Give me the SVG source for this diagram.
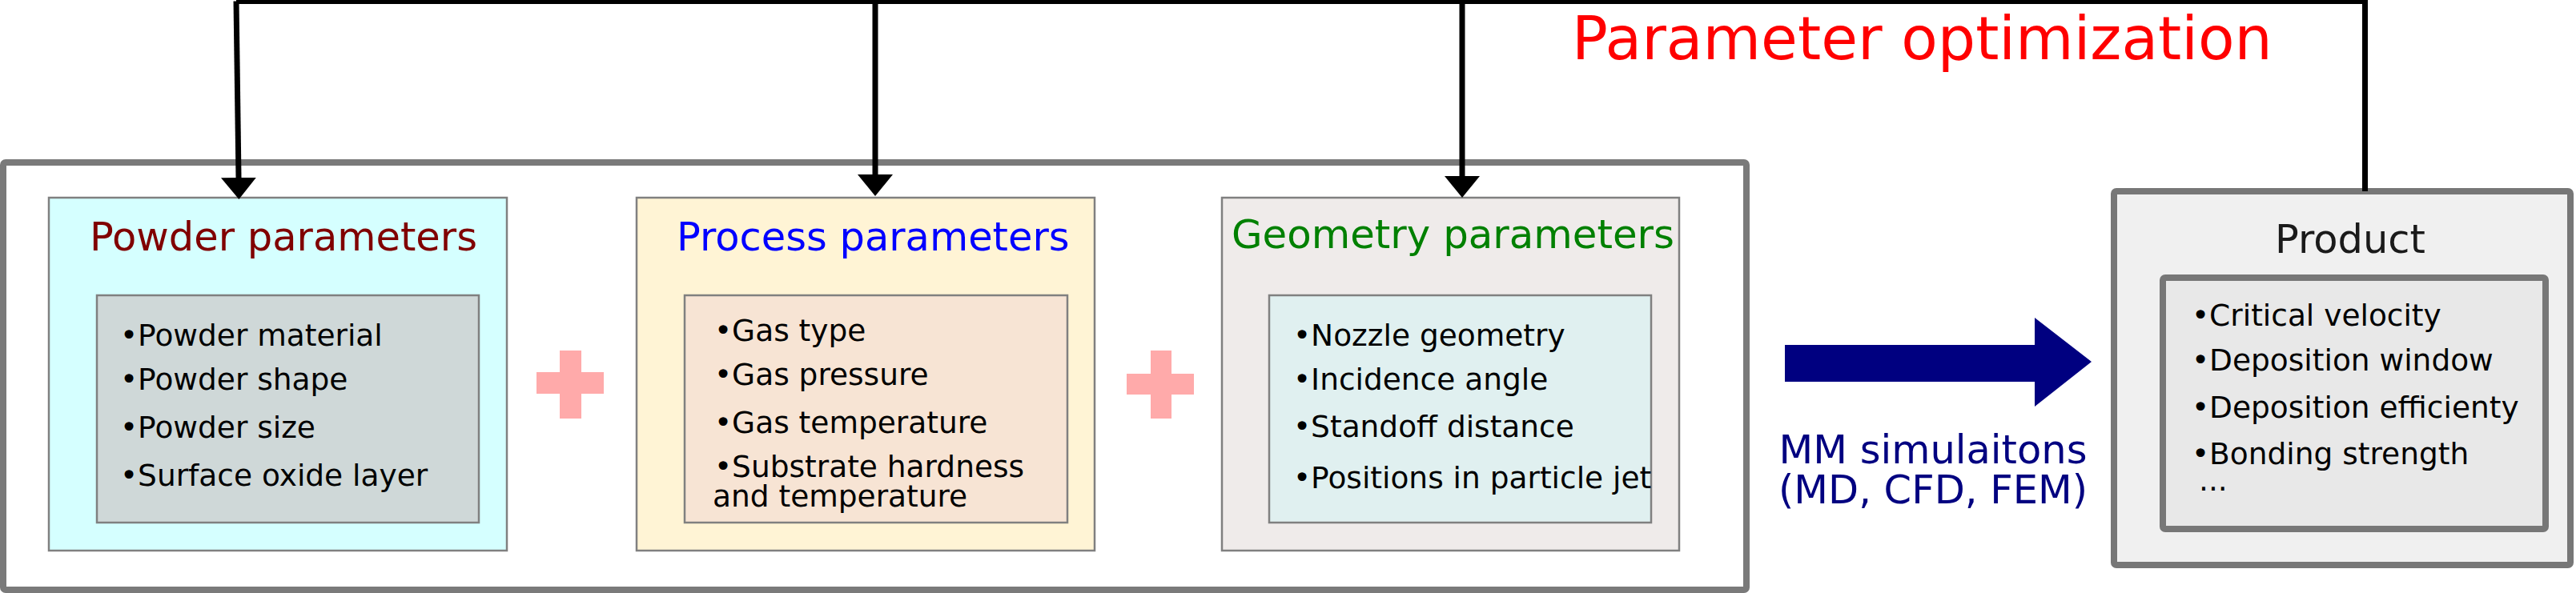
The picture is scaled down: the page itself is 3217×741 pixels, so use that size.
<svg xmlns="http://www.w3.org/2000/svg" width="3217" height="741" viewBox="0 0 3217 741">
<defs>
<style>
text{font-family:"DejaVu Sans","Liberation Sans",sans-serif;}
.title{font-size:49.5px;}
.item{font-size:37.5px;fill:#000;}
.box{stroke:#808080;stroke-width:2.5;}
.thick{stroke:#777;stroke-width:8;}
.conn{fill:none;stroke:#000;stroke-width:7;}
.plus{fill:#ffaaaa;}
</style>
<marker id="ah" viewBox="0 0 27 44" refX="0" refY="22" markerWidth="27" markerHeight="44" markerUnits="userSpaceOnUse" orient="auto">
<path d="M0,0 L27,22 L0,44 Z" fill="#000"/>
</marker>
</defs>
<rect width="3217" height="741" fill="#fff"/>

<g id="outer">
<rect x="4" y="203" width="2177" height="534" rx="3" fill="none" stroke="#7a7a7a" stroke-width="8"/>
</g>

<g id="powder">
<rect class="box" x="61" y="247" width="572" height="441" fill="#d5ffff"/>
<text class="title" x="112" y="313" fill="#800000">Powder parameters</text>
<rect class="box" x="121" y="369" width="477" height="284" fill="#cfd8d8"/>
<text class="item" x="150" y="432">•Powder material</text>
<text class="item" x="150" y="487">•Powder shape</text>
<text class="item" x="150" y="547">•Powder size</text>
<text class="item" x="150" y="607">•Surface oxide layer</text>
</g>

<g id="plus1">
<rect class="plus" x="699" y="438" width="27" height="85"/>
<rect class="plus" x="670" y="465" width="84" height="27"/>
</g>

<g id="process">
<rect class="box" x="795" y="247" width="572" height="441" fill="#fff4d5"/>
<text class="title" x="845" y="313" fill="#0000ff">Process parameters</text>
<rect class="box" x="855" y="369" width="478" height="284" fill="#f7e4d4"/>
<text class="item" x="892" y="426">•Gas type</text>
<text class="item" x="892" y="481">•Gas pressure</text>
<text class="item" x="892" y="541">•Gas temperature</text>
<text class="item" x="892" y="596">•Substrate hardness</text>
<text class="item" x="890" y="633">and temperature</text>
</g>

<g id="plus2">
<rect class="plus" x="1437" y="438" width="26" height="85"/>
<rect class="plus" x="1407" y="467" width="84" height="26"/>
</g>

<g id="geometry">
<rect class="box" x="1526" y="247" width="571" height="441" fill="#efebea"/>
<text class="title" x="1538" y="310" fill="#008000" textLength="553" lengthAdjust="spacingAndGlyphs">Geometry parameters</text>
<rect class="box" x="1585" y="369" width="477" height="284" fill="#e0f0f0"/>
<text class="item" x="1615" y="432">•Nozzle geometry</text>
<text class="item" x="1615" y="487">•Incidence angle</text>
<text class="item" x="1615" y="546">•Standoff distance</text>
<text class="item" x="1615" y="610">•Positions in particle jet</text>
</g>

<g id="simulation">
<polygon points="2229,431 2541,431 2541,397 2612,452 2541,508 2541,477 2229,477" fill="#000080"/>
<text x="2414" y="579" font-size="49.5" fill="#000080" text-anchor="middle">MM simulaitons</text>
<text x="2414" y="629" font-size="49.5" fill="#000080" text-anchor="middle">(MD, CFD, FEM)</text>
</g>

<g id="product">
<rect class="thick" x="2640" y="239" width="570" height="467" rx="3" fill="#f0f0f0"/>
<text class="title" x="2841" y="316" fill="#1a1a1a">Product</text>
<rect class="thick" x="2701" y="347" width="478" height="314" rx="3" fill="#e8e8e8"/>
<text class="item" x="2737" y="407">•Critical velocity</text>
<text class="item" x="2737" y="463">•Deposition window</text>
<text class="item" x="2737" y="522">•Deposition efficienty</text>
<text class="item" x="2737" y="580">•Bonding strength</text>
<text class="item" x="2746" y="613">...</text>
</g>

<g id="connectors">
<path class="conn" d="M2953.5,239 V1.5 H295"/>
<path class="conn" d="M295,1.5 L298,222" marker-end="url(#ah)"/>
<path class="conn" d="M1093,1.5 V218" marker-end="url(#ah)"/>
<path class="conn" d="M1826,1.5 V220" marker-end="url(#ah)"/>
<text x="1963" y="74" font-size="74.5" fill="#ff0000">Parameter optimization</text>
</g>
</svg>
